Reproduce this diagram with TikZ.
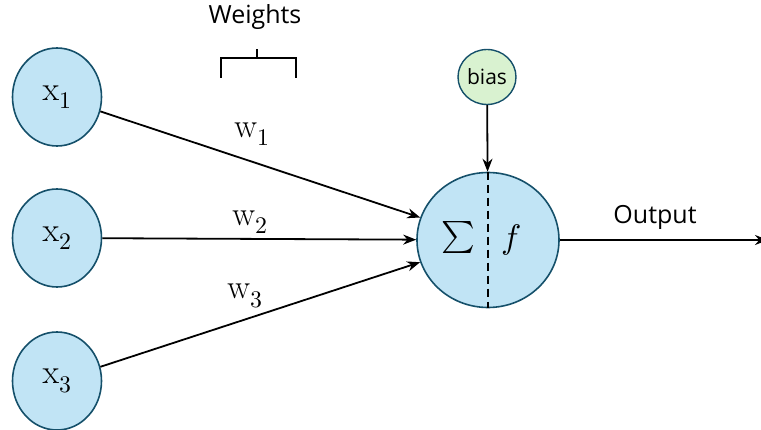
\documentclass[tikz,border=0pt]{standalone}
\usepackage{fontspec}
\usepackage{unicode-math}
\setmathfont{Latin Modern Math}
\setsansfont{Open Sans}
\usetikzlibrary{shapes.geometric,arrows.meta}
\definecolor{nodeblue}{HTML}{C1E4F5}
\definecolor{nodegreen}{HTML}{D9F2D0}
\definecolor{rim}{HTML}{15506A}
\tikzset{
  inputnode/.style={ellipse, draw=rim, line width=1.6pt, fill=nodeblue,
    minimum width=89pt, minimum height=98pt, inner sep=0pt,
    font=\fontsize{34}{38}\selectfont},
  sumnode/.style={ellipse, draw=rim, line width=1.6pt, fill=nodeblue,
    minimum width=142pt, minimum height=135pt, inner sep=0pt},
  biasnode/.style={ellipse, draw=rim, line width=1.4pt, fill=nodegreen,
    minimum width=58pt, minimum height=55pt, inner sep=0pt,
    font=\sffamily\fontsize{21}{24}\selectfont},
  wire/.style={line width=1.8pt, -{Stealth[length=13pt,width=10pt]}},
  weightlabel/.style={font=\fontsize{34}{38}\selectfont},
  caption/.style={font=\sffamily\fontsize{25}{30}\selectfont},
}
\begin{document}
\begin{tikzpicture}[x=1pt,y=-1pt]
\useasboundingbox (0,0) rectangle (761,430);
\clip (0,0) rectangle (761,430);

% inputs
\node[inputnode] (x1) at (57,97)  {$\mathrm{x}_1$};
\node[inputnode] (x2) at (57,238) {$\mathrm{x}_2$};
\node[inputnode] (x3) at (57,381) {$\mathrm{x}_3$};

% summation / activation unit
\node[sumnode] (sum) at (488,240) {};
\draw[line width=1.6pt, dash pattern=on 8pt off 5pt] (sum.north) -- (sum.south);
\node[font=\fontsize{32}{36}\selectfont] (sigma) at (458,238) {$\textstyle\sum$};
\node[font=\fontsize{34}{38}\selectfont] (act) at (511,240) {$f$};

% bias
\node[biasnode] (bias) at (487,77) {bias};
\draw[wire] (bias) -- (sum);

% weighted connections
\draw[wire] (x1) -- (sum);
\draw[wire] (x2) -- (sum);
\draw[wire] (x3) -- (sum);
\node[weightlabel] (w1) at (252,134) {$\mathrm{w}_1$};
\node[weightlabel] (w2) at (250,222) {$\mathrm{w}_2$};
\node[weightlabel] (w3) at (245,296) {$\mathrm{w}_3$};

% output
\coordinate (outend) at (768,240);
\draw[wire] (sum) -- (outend);
\node[caption] (outlabel) at (655,217) {Output};

% weights bracket
\node[caption] (weights) at (255,17) {Weights};
\draw[line width=1.8pt] (221,78) -- (221,58) -- (296,58) -- (296,78)
  (257,58) -- (257,49);
\end{tikzpicture}
\end{document}
